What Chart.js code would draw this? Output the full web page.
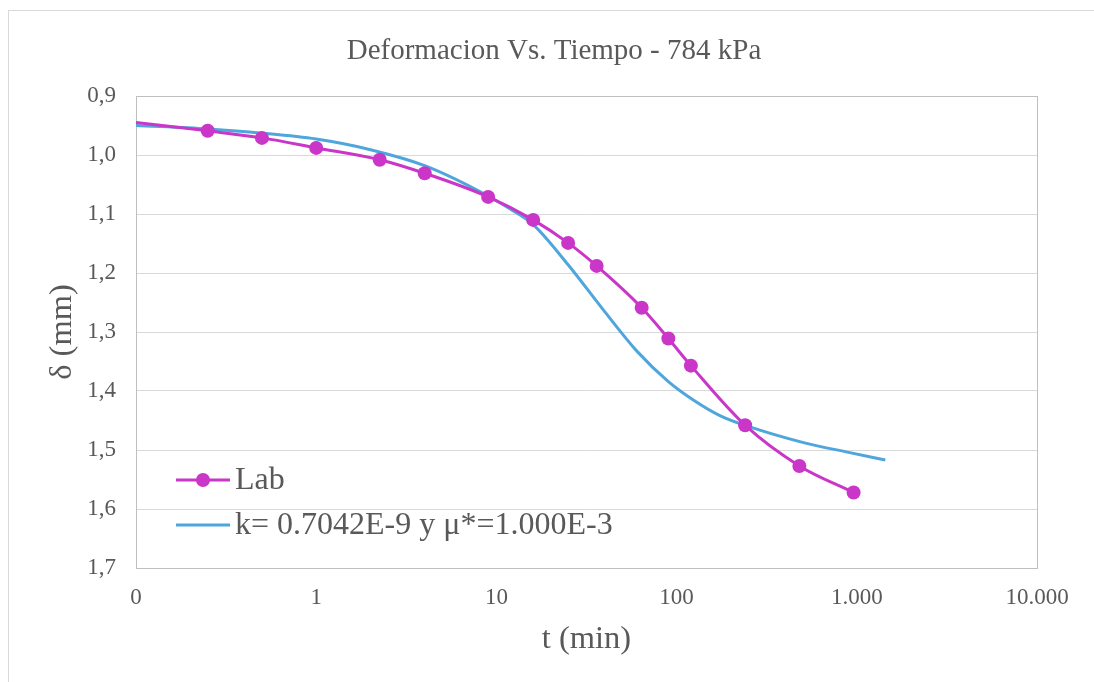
<!DOCTYPE html>
<html>
<head>
<meta charset="utf-8">
<title>Deformacion Vs. Tiempo - 784 kPa</title>
<script src="https://cdn.jsdelivr.net/npm/chart.js@4.4.1/dist/chart.umd.min.js"></script>
<style>
    html, body { margin: 0; padding: 0; background: #fff; }
    #wrap { position: relative; width: 1094px; height: 682px; overflow: hidden; }
    #marco { position: absolute; left: 8px; top: 10px; width: 1200px; height: 800px; border: 1px solid #d9d9d9; }
    #grafico { position: absolute; left: 0; top: 0; }
</style>
</head>
<body>
<div id="wrap">
    <div id="marco"></div>
    <canvas id="grafico" width="1094" height="682"></canvas>
</div>
<script>
"use strict";
// datos
var tiempoLab = [0.1, 0.25, 0.5, 1, 2.25, 4, 9, 16, 25, 36, 64, 90, 120, 240, 480, 960];
var deformLab = [0.945, 0.959, 0.971, 0.988, 1.008, 1.031, 1.071, 1.110, 1.149, 1.188, 1.259, 1.311, 1.357, 1.458, 1.527, 1.572];
var tiempoModelo = [0.1, 0.25, 0.5, 1, 2, 4, 8, 12, 16, 25, 40, 60, 90, 125, 175, 250, 500, 900, 1440];
var deformModelo = [0.950, 0.956, 0.963, 0.973, 0.991, 1.018, 1.061, 1.092, 1.118, 1.186, 1.266, 1.332, 1.384, 1.416, 1.442, 1.460, 1.487, 1.504, 1.517];
var ticksX = [0.1, 1, 10, 100, 1000, 10000];
var nombreLab = "Lab";
var nombreModelo = "k= 0.7042E-9 y μ*=1.000E-3";

var colorLab = "#c936c8";
var colorModelo = "#4ea6dc";
var gris = "#595959";

function puntos(ts, ys) {
    var out = [];
    for (var i = 0; i < ts.length; i++) {
        out.push({ x: ts[i], y: ys[i] });
    }
    return out;
}

// borde del area de trazado
var bordeArea = {
    id: "bordeArea",
    beforeDatasetsDraw: function (chart) {
        var a = chart.chartArea;
        var ctx = chart.ctx;
        ctx.save();
        ctx.strokeStyle = "#bfbfbf";
        ctx.lineWidth = 1;
        ctx.strokeRect(Math.round(a.left) + 0.5, Math.round(a.top) + 0.5, Math.round(a.right - a.left), Math.round(a.bottom - a.top));
        ctx.restore();
    },
};

// leyenda dentro del area, abajo a la izquierda
var leyendaInterna = {
    id: "leyendaInterna",
    afterDraw: function (chart) {
        var a = chart.chartArea;
        var ctx = chart.ctx;
        var filas = [a.bottom - 88, a.bottom - 43];
        ctx.save();
        ctx.font = "32px 'Liberation Serif'";
        ctx.textBaseline = "middle";
        chart.data.datasets.forEach(function (ds, i) {
            var y = filas[i];
            var x0 = a.left + 40;
            ctx.strokeStyle = ds.borderColor;
            ctx.lineWidth = 3;
            ctx.beginPath();
            ctx.moveTo(x0, y);
            ctx.lineTo(x0 + 54, y);
            ctx.stroke();
            if (i === 0) {
                ctx.fillStyle = ds.borderColor;
                ctx.beginPath();
                ctx.arc(x0 + 27, y, 7, 0, Math.PI * 2);
                ctx.fill();
            }
            ctx.fillStyle = gris;
            ctx.fillText(ds.label, x0 + 59, y + 1);
        });
        ctx.restore();
    },
};

Chart.defaults.font.family = "'Liberation Serif', 'Times New Roman', serif";
Chart.defaults.color = gris;

var ctx = document.getElementById("grafico").getContext("2d");
var myChart = new Chart(ctx, {
    type: "line",
    data: {
        datasets: [
            {
                label: nombreLab,
                data: puntos(tiempoLab, deformLab),
                borderColor: colorLab,
                backgroundColor: colorLab,
                borderWidth: 3,
                pointRadius: function (c) {
                    return c.dataIndex === 0 ? 0 : 7;
                },
                pointBorderWidth: 0,
                cubicInterpolationMode: "monotone",
            },
            {
                label: nombreModelo,
                data: puntos(tiempoModelo, deformModelo),
                borderColor: colorModelo,
                backgroundColor: colorModelo,
                borderWidth: 3,
                pointRadius: 0,
                cubicInterpolationMode: "monotone",
            },
        ],
    },
    options: {
        responsive: false,
        animation: false,
        devicePixelRatio: 1,
        layout: {
            padding: { left: 14, right: 0, top: 0, bottom: 0 },
        },
        plugins: {
            legend: { display: false },
            tooltip: { enabled: false },
            title: {
                display: true,
                text: "Deformacion Vs. Tiempo - 784 kPa",
                color: gris,
                font: { size: 29, weight: "normal" },
                padding: { top: 34, bottom: 27.2 },
            },
        },
        scales: {
            x: {
                type: "logarithmic",
                min: 0.1,
                max: 10000,
                afterBuildTicks: function (axis) {
                    axis.ticks = ticksX.map(function (v) {
                        return { value: v };
                    });
                },
                afterFit: function (s) {
                    s.height = 114;
                },
                ticks: {
                    autoSkip: false,
                    maxRotation: 0,
                    padding: 16,
                    color: gris,
                    font: { size: 23 },
                    callback: function (v) {
                        return Math.round(v).toString().replace(/\B(?=(\d{3})+(?!\d))/g, ".");
                    },
                },
                grid: { display: false, drawTicks: false },
                border: { display: false },
                title: {
                    display: true,
                    text: "t (min)",
                    color: gris,
                    font: { size: 32.5 },
                    padding: { top: 0, bottom: 23.5 },
                },
            },
            y: {
                type: "linear",
                reverse: true,
                min: 0.9,
                max: 1.7,
                afterFit: function (s) {
                    s.width = 122;
                },
                ticks: {
                    stepSize: 0.1,
                    padding: 20,
                    color: gris,
                    font: { size: 23 },
                    callback: function (v) {
                        return v.toFixed(1).replace(".", ",");
                    },
                },
                grid: { color: "#d9d9d9", lineWidth: 1, drawTicks: false },
                border: { display: false },
                title: {
                    display: true,
                    text: "δ (mm)",
                    color: gris,
                    font: { size: 32.5 },
                    padding: { top: 28.5, bottom: 0 },
                },
            },
            // eje vacio a la derecha, solo reserva el margen
            margen: {
                type: "linear",
                position: "right",
                min: 0,
                max: 1,
                afterFit: function (s) {
                    s.width = 57;
                },
                ticks: { display: false },
                grid: { display: false, drawTicks: false },
                border: { display: false },
            },
        },
    },
    plugins: [bordeArea, leyendaInterna],
});
</script>
</body>
</html>
